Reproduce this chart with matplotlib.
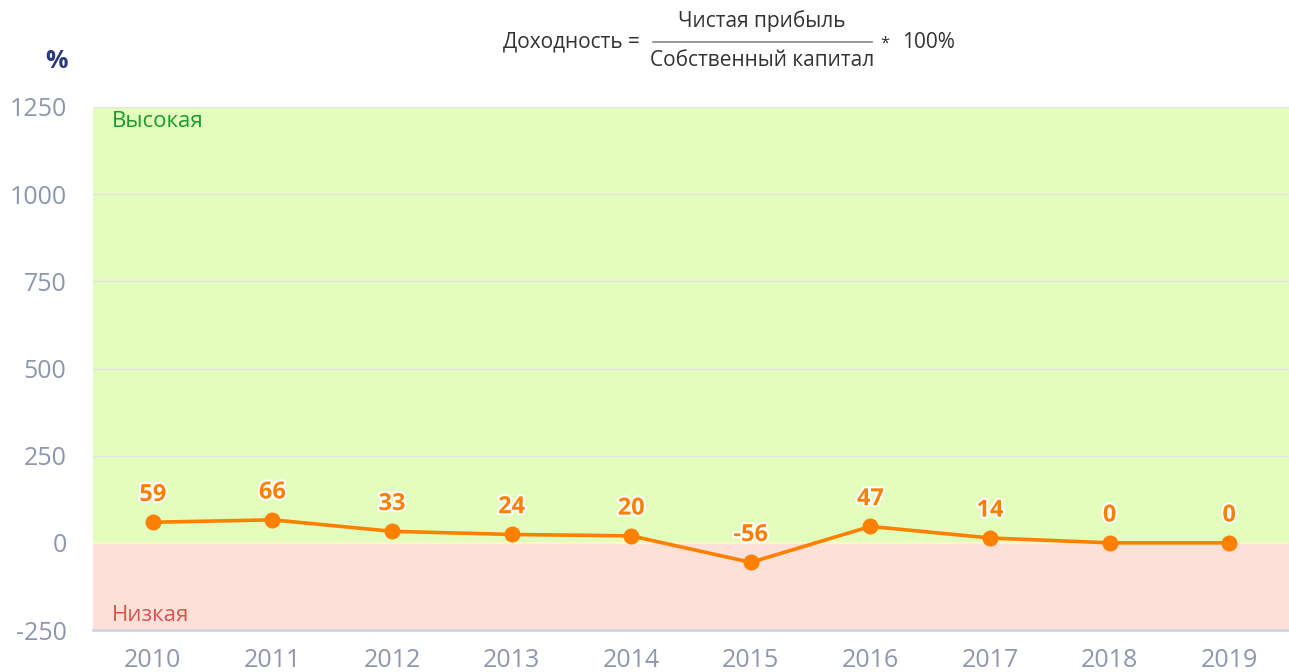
import matplotlib.pyplot as plt
import matplotlib.patheffects as pe

# Data
years = ['2010', '2011', '2012', '2013', '2014', '2015', '2016', '2017', '2018', '2019']
profitability = [59, 66, 33, 24, 20, -56, 47, 14, 0, 0]
y_ticks = [-250, 0, 250, 500, 750, 1000, 1250]

plt.rcParams['font.family'] = ['Open Sans', 'DejaVu Sans']
plt.rcParams['axes.unicode_minus'] = False

fig = plt.figure(figsize=(12.89, 6.72), dpi=100)
ax = fig.add_axes([93 / 1289, 42 / 672, 1 - 93 / 1289, (630 - 107) / 672])

x = list(range(len(years)))
ax.set_xlim(-0.5, len(years) - 0.5)
ax.set_ylim(-250, 1250)

# zones
ax.axhspan(0, 1250, color='#e3fdbd', zorder=0)
ax.axhspan(-250, 0, color='#fde0d7', zorder=0)
ax.axhline(0, color='#fbf7c8', lw=1.5, zorder=1)

for t in y_ticks[2:]:
    ax.axhline(t, color='#e4e4e4', lw=1, zorder=1)

ax.plot(x, profitability, color='#ff7f00', lw=2.6, marker='o', ms=10.5, zorder=3)
for xi, v in zip(x, profitability):
    ax.annotate(str(v), (xi, v), xytext=(0, 11), textcoords='offset points',
                ha='center', va='bottom', fontsize=17, fontweight='bold', color='#ff7f00',
                path_effects=[pe.withStroke(linewidth=3, foreground='white')], zorder=4)

ax.set_xticks(x)
ax.set_xticklabels(years)
ax.set_yticks(y_ticks)
ax.tick_params(axis='both', length=0, labelsize=18, labelcolor='#8f97b0')
ax.tick_params(axis='x', pad=13)
ax.tick_params(axis='y', pad=19)

for s in ['top', 'right', 'left']:
    ax.spines[s].set_visible(False)
ax.spines['bottom'].set_color('#d0d4e6')
ax.spines['bottom'].set_linewidth(2)

ax.text(0.016, 1238, 'Высокая', color='#1a9c2c', fontsize=16, va='top',
        transform=ax.get_yaxis_transform())
ax.text(0.016, -238, 'Низкая', color='#d9534f', fontsize=16, va='bottom',
        transform=ax.get_yaxis_transform())

# header
fig.text(57 / 1289, 1 - 62 / 672, '%', color='#2b3a78', fontsize=18, fontweight='bold',
         ha='center', va='center')
fig.text(640 / 1289, 1 - 42 / 672, 'Доходность =', color='#333333', fontsize=15,
         ha='right', va='center')
fig.text(762 / 1289, 1 - 21 / 672, 'Чистая прибыль', color='#333333', fontsize=15,
         ha='center', va='center')
fig.text(762 / 1289, 1 - 61 / 672, 'Собственный капитал', color='#333333', fontsize=15,
         ha='center', va='center')
fig.add_artist(plt.Line2D([653 / 1289, 872 / 1289], [1 - 42 / 672, 1 - 42 / 672],
                          color='#888888', lw=1.2))
fig.text(885 / 1289, 1 - 44 / 672, '*', color='#333333', fontsize=12,
         ha='center', va='center')
fig.text(902 / 1289, 1 - 42 / 672, '100%', color='#333333', fontsize=15,
         ha='left', va='center')

fig.savefig('out.png', dpi=100)
